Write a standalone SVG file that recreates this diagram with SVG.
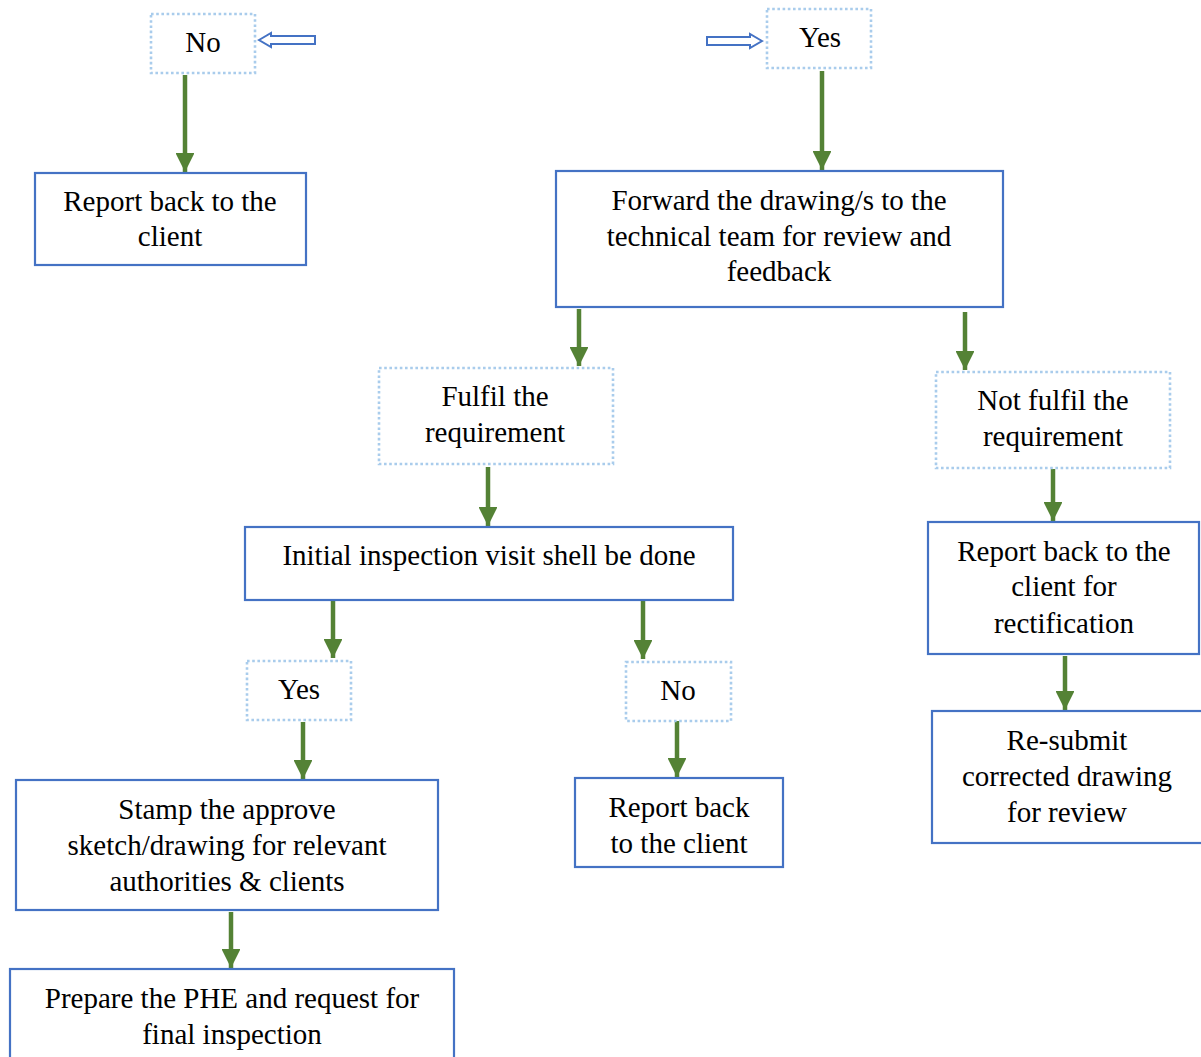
<svg xmlns="http://www.w3.org/2000/svg" width="1201" height="1057" viewBox="0 0 1201 1057">
<defs>
<style>
.box{fill:#fff;stroke:#4472C4;stroke-width:2.2}
.dot{fill:#fff;stroke:#A9CCEC;stroke-width:2.6;stroke-dasharray:2.6 2.6}
.t{font-family:"Liberation Serif","Times New Roman",serif;font-size:29px;fill:#000;text-anchor:middle}
.c{stroke:#548235;stroke-width:4.5;fill:none}
.hol{fill:#fff;stroke:#4472C4;stroke-width:2}
</style>
<marker id="ah" viewBox="0 0 10 10" refX="10" refY="5" markerWidth="4.6" markerHeight="4.2" orient="auto" markerUnits="strokeWidth">
<path d="M0,0 L10,5 L0,10 z" fill="#548235"/>
</marker>
</defs>
<rect width="1201" height="1057" fill="#fff"/>

<g id="connectors">
<path class="c" d="M185,75 V172" marker-end="url(#ah)"/>
<path class="c" d="M822,71 V170" marker-end="url(#ah)"/>
<path class="c" d="M579,309 V366" marker-end="url(#ah)"/>
<path class="c" d="M965,312 V370" marker-end="url(#ah)"/>
<path class="c" d="M488,467 V526" marker-end="url(#ah)"/>
<path class="c" d="M1053,469 V521" marker-end="url(#ah)"/>
<path class="c" d="M333,601 V658" marker-end="url(#ah)"/>
<path class="c" d="M643,601 V659" marker-end="url(#ah)"/>
<path class="c" d="M303,722 V779" marker-end="url(#ah)"/>
<path class="c" d="M677,720 V777" marker-end="url(#ah)"/>
<path class="c" d="M1065,656 V710" marker-end="url(#ah)"/>
<path class="c" d="M231,912 V968" marker-end="url(#ah)"/>
<path class="hol" d="M259,40 L271,33 V36 H315 V44 H271 V47 Z"/>
<path class="hol" d="M762,41 L750,34 V37 H707 V45 H750 V48 Z"/>
</g>

<g id="n-no-top"><rect class="dot" x="151" y="14" width="104" height="59"/><text class="t" x="203" y="52">No</text></g>
<g id="n-yes-top"><rect class="dot" x="767" y="9" width="104" height="59"/><text class="t" x="820" y="47">Yes</text></g>
<g id="n-report1"><rect class="box" x="35" y="173" width="271" height="92"/><text class="t" x="170" y="211">Report back to the</text><text class="t" x="170" y="246">client</text></g>
<g id="n-forward"><rect class="box" x="556" y="171" width="447" height="136"/><text class="t" x="779" y="210">Forward the drawing/s to the</text><text class="t" x="779" y="246">technical team for review and</text><text class="t" x="779" y="281">feedback</text></g>
<g id="n-fulfil"><rect class="dot" x="379" y="368" width="234" height="96"/><text class="t" x="495" y="406">Fulfil the</text><text class="t" x="495" y="442">requirement</text></g>
<g id="n-notfulfil"><rect class="dot" x="936" y="372" width="234" height="96"/><text class="t" x="1053" y="410">Not fulfil the</text><text class="t" x="1053" y="446">requirement</text></g>
<g id="n-initial"><rect class="box" x="245" y="527" width="488" height="73"/><text class="t" x="489" y="565">Initial inspection visit shell be done</text></g>
<g id="n-report-rect"><rect class="box" x="928" y="522" width="271" height="132"/><text class="t" x="1064" y="561">Report back to the</text><text class="t" x="1064" y="596">client for</text><text class="t" x="1064" y="633">rectification</text></g>
<g id="n-yes2"><rect class="dot" x="247" y="661" width="104" height="59"/><text class="t" x="299" y="699">Yes</text></g>
<g id="n-no2"><rect class="dot" x="626" y="662" width="105" height="59"/><text class="t" x="678" y="700">No</text></g>
<g id="n-stamp"><rect class="box" x="16" y="780" width="422" height="130"/><text class="t" x="227" y="819">Stamp the approve</text><text class="t" x="227" y="855">sketch/drawing for relevant</text><text class="t" x="227" y="891">authorities &amp; clients</text></g>
<g id="n-report2"><rect class="box" x="575" y="778" width="208" height="89"/><text class="t" x="679" y="817">Report back</text><text class="t" x="679" y="853">to the client</text></g>
<g id="n-resubmit"><rect class="box" x="932" y="711" width="280" height="132"/><text class="t" x="1067" y="750">Re-submit</text><text class="t" x="1067" y="786">corrected drawing</text><text class="t" x="1067" y="822">for review</text></g>
<g id="n-prepare"><rect class="box" x="10" y="969" width="444" height="100"/><text class="t" x="232" y="1008">Prepare the PHE and request for</text><text class="t" x="232" y="1044">final inspection</text></g>
</svg>
